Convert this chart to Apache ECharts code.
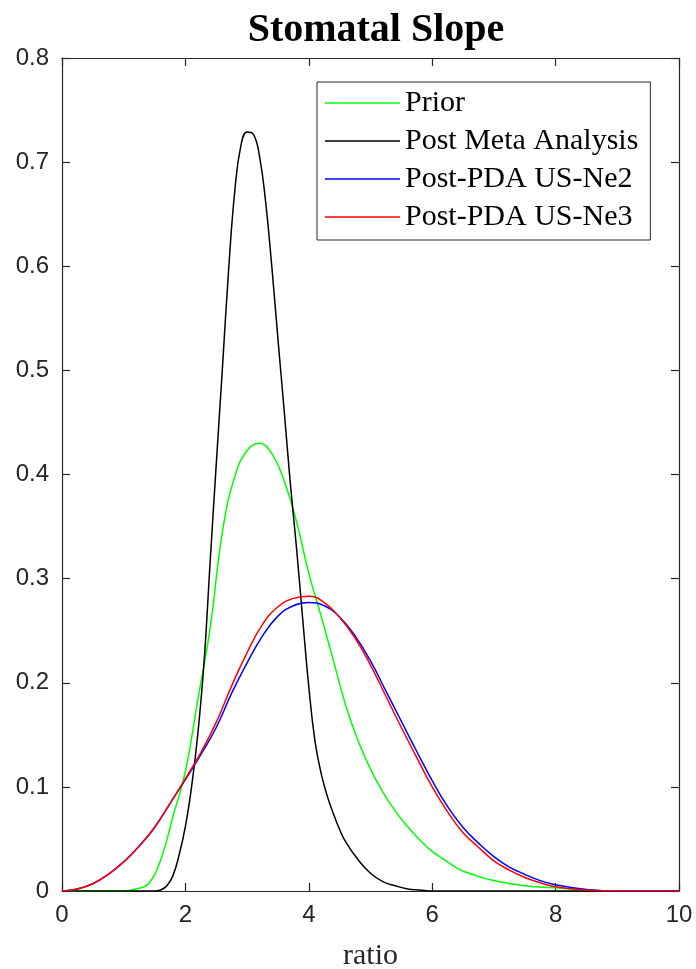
<!DOCTYPE html>
<html>
<head>
<meta charset="utf-8">
<script src="https://cdn.jsdelivr.net/npm/echarts@6/dist/echarts.min.js"></script>
<style>
html,body{margin:0;padding:0;background:#fff;}
#chart{width:696px;height:969px;}
</style>
</head>
<body>
<div id="chart"></div>
<script>
// ---- data ----
const seriesNames = ['Prior', 'Post Meta Analysis', 'Post-PDA US-Ne2', 'Post-PDA US-Ne3'];

const priorX = [0, 1.0, 1.2, 1.4, 1.6, 1.8, 2.0, 2.2, 2.4, 2.6, 2.8, 3.0, 3.2, 3.4, 3.6, 3.8, 4.0, 4.2, 4.4, 4.6, 4.8, 5.0, 5.2, 5.4, 5.6, 5.8, 6.0, 6.2, 6.4, 6.6, 6.8, 7.0, 7.5, 8.0, 8.5, 9.0, 10];
const priorY = [0, 0, 0.002, 0.007, 0.030, 0.072, 0.115, 0.183, 0.252, 0.345, 0.398, 0.423, 0.430, 0.420, 0.394, 0.355, 0.305, 0.264, 0.221, 0.178, 0.144, 0.117, 0.095, 0.077, 0.062, 0.049, 0.038, 0.030, 0.022, 0.017, 0.013, 0.010, 0.005, 0.003, 0.001, 0, 0];

const metaX = [0, 1.0, 1.5, 1.6, 1.7, 1.8, 1.9, 2.0, 2.1, 2.2, 2.3, 2.4, 2.5, 2.6, 2.7, 2.8, 2.9, 3.0, 3.1, 3.2, 3.3, 3.4, 3.5, 3.6, 3.7, 3.8, 3.9, 4.0, 4.1, 4.2, 4.3, 4.4, 4.5, 4.6, 4.8, 5.0, 5.2, 5.4, 5.6, 5.8, 6.0, 7.0, 10];
const metaY = [0, 0, 0, 0.001, 0.005, 0.015, 0.035, 0.062, 0.100, 0.150, 0.218, 0.315, 0.410, 0.502, 0.596, 0.672, 0.716, 0.729, 0.727, 0.706, 0.662, 0.600, 0.530, 0.462, 0.392, 0.330, 0.262, 0.196, 0.144, 0.113, 0.091, 0.074, 0.059, 0.047, 0.030, 0.017, 0.009, 0.005, 0.002, 0.001, 0, 0, 0];

const pdaX = [0, 0.25, 0.5, 0.75, 1.0, 1.25, 1.5, 1.75, 2.0, 2.25, 2.5, 2.75, 3.0, 3.25, 3.5, 3.75, 4.0, 4.25, 4.5, 4.75, 5.0, 5.25, 5.5, 5.75, 6.0, 6.25, 6.5, 6.75, 7.0, 7.25, 7.5, 7.75, 8.0, 8.5, 9.0, 10];
const ne2Y = [0, 0.002, 0.007, 0.016, 0.028, 0.043, 0.061, 0.084, 0.107, 0.131, 0.157, 0.190, 0.219, 0.245, 0.264, 0.274, 0.277, 0.274, 0.263, 0.245, 0.221, 0.192, 0.163, 0.134, 0.106, 0.081, 0.061, 0.046, 0.033, 0.023, 0.016, 0.010, 0.006, 0.0015, 0, 0];
const ne3Y = [0, 0.002, 0.007, 0.016, 0.028, 0.043, 0.061, 0.084, 0.108, 0.133, 0.162, 0.197, 0.229, 0.256, 0.273, 0.281, 0.283, 0.277, 0.263, 0.243, 0.217, 0.187, 0.157, 0.128, 0.100, 0.076, 0.056, 0.042, 0.029, 0.020, 0.013, 0.008, 0.004, 0.001, 0, 0];

const xTicks = [0, 2, 4, 6, 8, 10];
const yTicks = [0, 0.1, 0.2, 0.3, 0.4, 0.5, 0.6, 0.7, 0.8];

// ---- build chart ----
const zip = (xs, ys) => xs.map((x, i) => [x, ys[i]]);
const colors = ['#00ff00', '#000000', '#0000ff', '#ff0000'];
const dataSets = [zip(priorX, priorY), zip(metaX, metaY), zip(pdaX, ne2Y), zip(pdaX, ne3Y)];

const axisColor = '#262626';
const sans = 'Liberation Sans, Arial, sans-serif';
const serif = 'Liberation Serif, Times New Roman, serif';

const chart = echarts.init(document.getElementById('chart'), null, {renderer: 'canvas'});
const baseX = {
  type: 'value', min: xTicks[0], max: xTicks[xTicks.length - 1], interval: xTicks[1] - xTicks[0],
  axisLine: {show: true, onZero: false, lineStyle: {color: axisColor, width: 1.2}},
  axisTick: {show: true, inside: true, length: 8, lineStyle: {color: axisColor, width: 1.2}},
  splitLine: {show: false}
};
const baseY = {
  type: 'value', min: yTicks[0], max: yTicks[yTicks.length - 1], interval: 0.1,
  axisLine: {show: true, onZero: false, lineStyle: {color: axisColor, width: 1.2}},
  axisTick: {show: true, inside: true, length: 8, lineStyle: {color: axisColor, width: 1.2}},
  splitLine: {show: false}
};

chart.setOption({
  animation: false,
  backgroundColor: '#fff',
  title: {
    text: 'Stomatal Slope', left: 371, top: 6, textAlign: 'center',
    textStyle: {fontFamily: serif, fontWeight: 'bold', fontSize: 40, color: '#000'}
  },
  grid: {left: 62, right: 17, top: 58, bottom: 78, containLabel: false, outerBoundsMode: 'none'},
  legend: {
    orient: 'vertical', left: 317, top: 82,
    padding: [6, 12, 8, 8], itemGap: 8, itemWidth: 75, itemHeight: 1.6,
    borderColor: axisColor, borderWidth: 1, backgroundColor: '#fff',
    textStyle: {fontFamily: serif, fontSize: 30, color: '#000'},
    data: seriesNames.map(n => ({name: n, icon: 'rect'}))
  },
  xAxis: [
    Object.assign({}, baseX, {
      position: 'bottom', name: 'ratio', nameLocation: 'middle', nameGap: 50,
      nameTextStyle: {fontFamily: serif, fontSize: 30, color: axisColor},
      axisLabel: {show: true, margin: 12, fontFamily: sans, fontSize: 24, color: axisColor,
        formatter: v => String(v)}
    }),
    Object.assign({}, baseX, {position: 'top', axisLabel: {show: false}})
  ],
  yAxis: [
    Object.assign({}, baseY, {
      position: 'left',
      axisLabel: {show: true, margin: 13, fontFamily: sans, fontSize: 24, color: axisColor,
        formatter: v => (v === 0 ? '0' : v.toFixed(1))}
    }),
    Object.assign({}, baseY, {position: 'right', axisLabel: {show: false}})
  ],
  series: seriesNames.map((n, i) => ({
    name: n, type: 'line', data: dataSets[i],
    xAxisIndex: 0, yAxisIndex: 0,
    symbol: 'none', showSymbol: false,
    smooth: 0.45,
    lineStyle: {color: colors[i], width: 1.5},
    itemStyle: {color: colors[i]},
    clip: true
  }))
});
</script>
</body>
</html>
